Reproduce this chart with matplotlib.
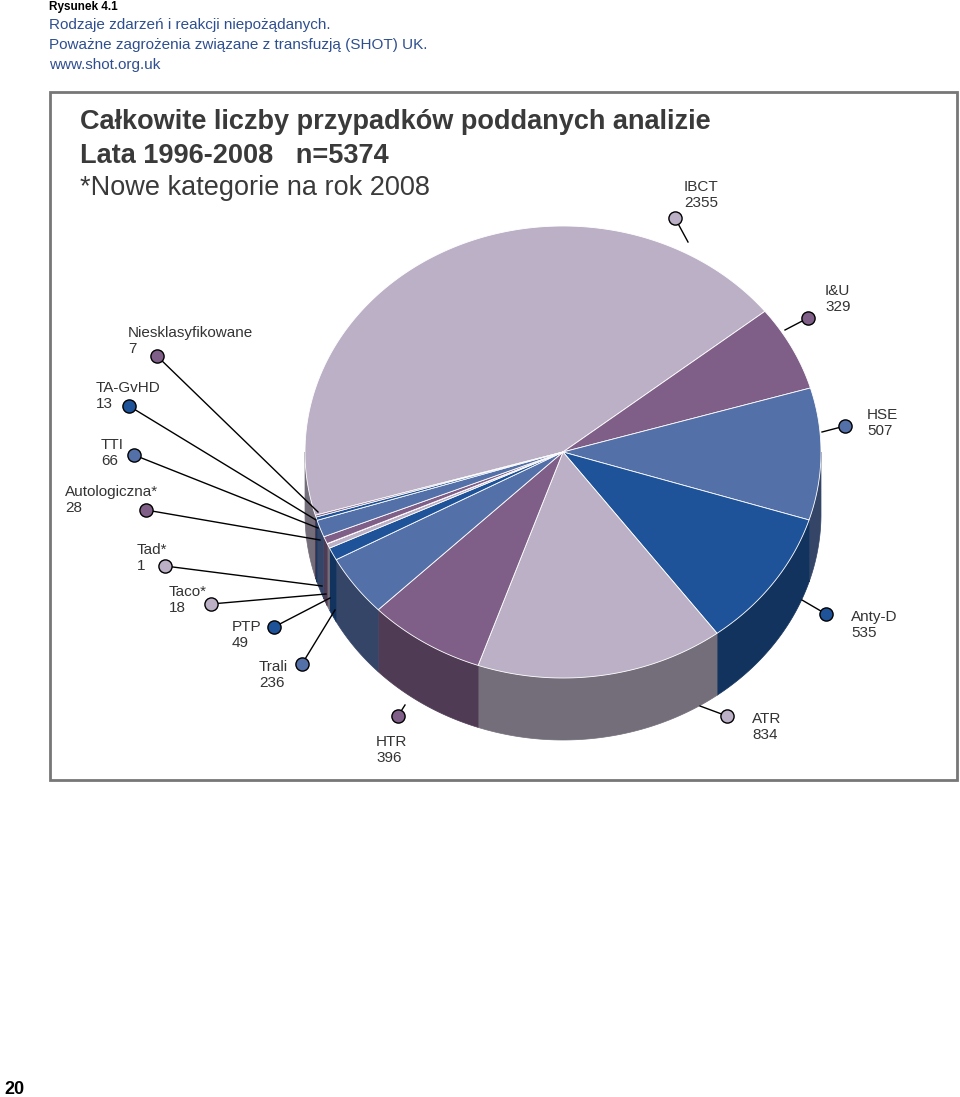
import numpy as np
import matplotlib
matplotlib.use("Agg")
import matplotlib.pyplot as plt
from matplotlib.patches import Polygon, Rectangle
import matplotlib.colors as mc

categories = ["IBCT", "I&U", "HSE", "Anty-D", "ATR", "HTR", "Trali", "PTP",
              "Taco*", "Tad*", "Autologiczna*", "TTI", "TA-GvHD", "Niesklasyfikowane"]
values = [2355, 329, 507, 535, 834, 396, 236, 49, 18, 1, 28, 66, 13, 7]

LIL, PUR, MBL, DBL = "#BBB0C5", "#7F5F87", "#5470A8", "#1F5399"
colors = [LIL, PUR, MBL, DBL, LIL, PUR, MBL, DBL, LIL, LIL, PUR, MBL, DBL, PUR]

fig = plt.figure(figsize=(9.6, 10.97), dpi=100)
ax = fig.add_axes([0, 0, 1, 1])
ax.set_xlim(0, 960); ax.set_ylim(1097, 0); ax.axis("off")
FONT = "Liberation Sans"

cx, cy, rx, ry, depth = 563, 452, 258, 226, 62
start = 38.5
tot = sum(values)
top_ang = start + values[0] / tot * 360.0
ang = top_ang - np.concatenate([[0], np.cumsum(values)]) / tot * 360.0  # clockwise

def pt(a, dy=0):
    r = np.radians(a)
    return cx + rx*np.cos(r), cy - ry*np.sin(r) + dy

def darker(c, f):
    r, g, b = mc.to_rgb(c); return (r*f, g*f, b*f)

for i in range(len(values)):
    a0, a1 = ang[i+1], ang[i]
    for lo_b, hi_b in [(180, 360), (-180, 0)]:
        s0, s1 = max(a0, lo_b), min(a1, hi_b)
        if s1 <= s0: continue
        t = np.linspace(s0, s1, 60)
        top = [pt(a) for a in t]
        bot = [pt(a, depth) for a in t[::-1]]
        ax.add_patch(Polygon(top+bot, closed=True, fc=darker(colors[i], 0.62),
                             ec=darker(colors[i], 0.62), lw=0.5, zorder=2))
for i in range(len(values)):
    t = np.linspace(ang[i+1], ang[i], max(4, int(values[i]/10)))
    poly = [(cx, cy)] + [pt(a) for a in t]
    ax.add_patch(Polygon(poly, closed=True, fc=colors[i], ec="white", lw=0.6, zorder=3))

labels = [
    ("IBCT\n2355", 684, 195, 675, 218, 688, 242, LIL),
    ("I&U\n329", 825, 299, 808, 318, 785, 330, PUR),
    ("HSE\n507", 867, 423, 845, 426, 822, 432, MBL),
    ("Anty-D\n535", 851, 625, 826, 614, 802, 600, DBL),
    ("ATR\n834", 752, 727, 727, 716, 700, 706, LIL),
    ("HTR\n396", 376, 750, 398, 716, 405, 705, PUR),
    ("Trali\n236", 259, 675, 302, 664, 335, 610, MBL),
    ("PTP\n49", 232, 635, 274, 627, 330, 598, DBL),
    ("Taco*\n18", 169, 600, 211, 604, 326, 594, LIL),
    ("Tad*\n1", 137, 558, 165, 566, 322, 586, LIL),
    ("Autologiczna*\n28", 65, 500, 146, 510, 320, 540, PUR),
    ("TTI\n66", 101, 453, 134, 455, 318, 528, MBL),
    ("TA-GvHD\n13", 96, 396, 129, 406, 316, 520, DBL),
    ("Niesklasyfikowane\n7", 128, 341, 157, 356, 318, 512, PUR),
]
for txt, tx, ty, mx, my, lx, ly, mcol in labels:
    ax.plot([mx, lx], [my, ly], color="black", lw=1.0, zorder=4)
    ax.plot(mx, my, "o", ms=9.5, mfc=mcol, mec="black", mew=1.0, zorder=5)
    ax.text(tx, ty, txt, fontsize=11, family=FONT, color="#333333",
            va="center", ha="left", linespacing=1.25, zorder=6)

ax.add_patch(Rectangle((50, 92), 907, 688, fill=False, ec="#777777", lw=2))
ax.text(80, 122, "Całkowite liczby przypadków poddanych analizie", fontsize=19.5,
        family=FONT, weight="bold", color="#3a3a3a", va="center")
ax.text(80, 156, "Lata 1996-2008   n=5374", fontsize=19.5, family=FONT,
        weight="bold", color="#3a3a3a", va="center")
ax.text(80, 188, "*Nowe kategorie na rok 2008", fontsize=19.5, family=FONT,
        color="#3a3a3a", va="center")

ax.text(49, 7, "Rysunek 4.1", fontsize=8.5, family=FONT, weight="bold", va="center")
for k, s in enumerate(["Rodzaje zdarzeń i reakcji niepożądanych.",
                       "Poważne zagrożenia związane z transfuzją (SHOT) UK.",
                       "www.shot.org.uk"]):
    ax.text(49, 25 + 20*k, s, fontsize=11, family=FONT, color="#2E4F8F", va="center")
ax.text(4, 1089, "20", fontsize=13, family=FONT, weight="bold", va="center")

fig.savefig("out.png", dpi=100)
